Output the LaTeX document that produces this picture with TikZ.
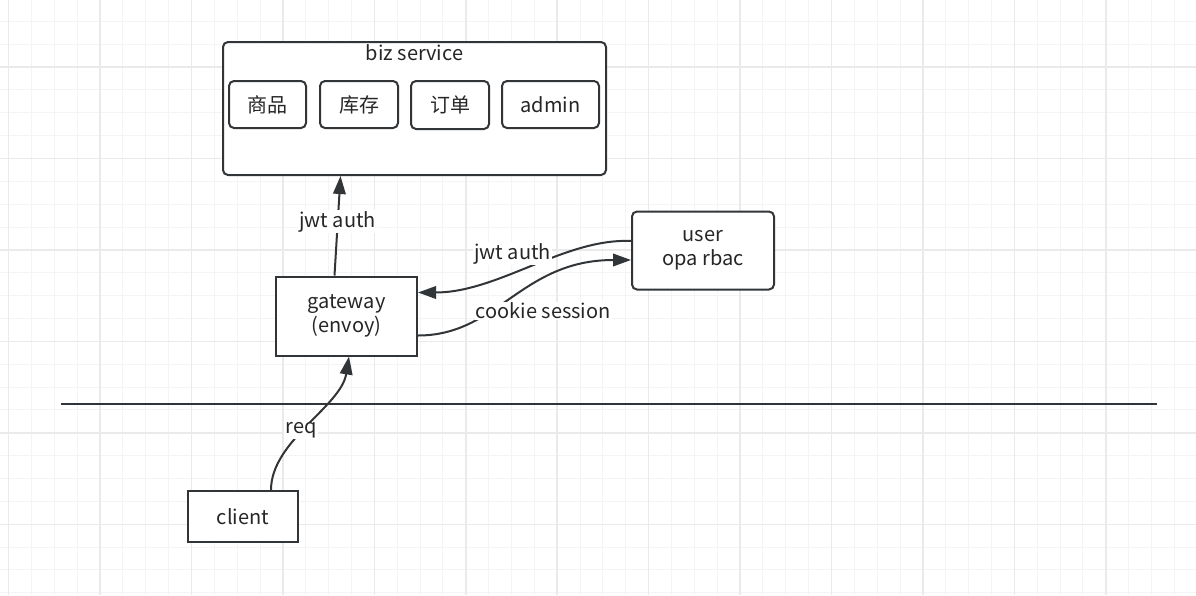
\documentclass[tikz,border=0pt]{standalone}
\usepackage{fontspec}
\setmainfont{Noto Sans CJK SC}
\usetikzlibrary{positioning,calc,arrows.meta}
\definecolor{inkline}{HTML}{323538}
\definecolor{inktext}{HTML}{262626}
\definecolor{gridminor}{HTML}{F4F4F4}
\definecolor{gridmajor}{HTML}{EAEAEA}
\tikzset{
  box/.style={draw=inkline, line width=2pt, fill=white, align=center, inner sep=0pt,
              text=inktext, font=\fontsize{20}{24}\selectfont,
              minimum width=#1},
  box/.default=110pt,
  rbox/.style={box=#1, rounded corners=5pt},
  rbox/.default=110pt,
  flow/.style={-{Triangle[length=18pt,width=12.5pt]}, draw=inkline, line width=2pt},
  lbl/.style={fill=white, inner sep=1pt, text=inktext, font=\fontsize{20}{24}\selectfont},
  thin grid/.style={draw=gridminor, line width=1pt},
  thick grid/.style={draw=gridmajor, line width=1.5pt},
}
\begin{document}
\begin{tikzpicture}[x=1pt, y=-1pt]
  \useasboundingbox[fill=white] (0,0) rectangle (1196,595);
  % grid
  \foreach \i in {0,...,52}{
    \draw[thin grid] (8.6+\i*22.857,0) -- (8.6+\i*22.857,595);}
  \foreach \j in {0,...,26}{
    \draw[thin grid] (0,21.4+\j*22.857) -- (1196,21.4+\j*22.857);}
  \foreach \i in {0,...,13}{
    \draw[thick grid] (8.6+\i*91.43,0) -- (8.6+\i*91.43,595);}
  \foreach \j in {0,...,6}{
    \draw[thick grid] (0,67.15+\j*91.43) -- (1196,67.15+\j*91.43);}
  % biz service
  \node[rbox=383pt, minimum height=133pt] (biz) at (414.5,108.5) {};
  \node[lbl, fill=none, anchor=north] (biztitle) at ([yshift=-2pt]biz.north) {biz service};
  \node[rbox=77pt, minimum height=47pt] (goods) at (267.5,104.5) {商品};
  \node[rbox=78pt, minimum height=47pt] (stock) at (359,104.5) {库存};
  \node[rbox=78pt, minimum height=48pt] (order) at (450,105) {订单};
  \node[rbox=97pt, minimum height=47pt] (admin) at (550.5,104.5) {admin};
  % gateway, user, client
  \node[box=141pt, minimum height=79pt] (gw) at (346.5,316) {gateway\\(envoy)};
  \node[rbox=142pt, minimum height=78pt] (user) at (703,250.5) {user\\opa rbac};
  \node[box=110pt, minimum height=51pt] (client) at (243,516.5) {client};
  % divider
  \coordinate (divL) at (61,404);
  \coordinate (divR) at (1157,404);
  \draw[draw=inkline, line width=2pt] (divL) -- (divR);
  % connectors
  \draw[flow] ([xshift=-12pt]gw.north) -- node[lbl, pos=0.5, yshift=4pt] (jwtbiz) {jwt auth} ([xshift=-74pt]biz.south);
  \draw[flow] ([yshift=9.5pt]user.west) .. controls +(-66,-3) and +(80,0) .. node[lbl, pos=0.5, xshift=-17pt, yshift=12pt] (jwtuser) {jwt auth} ([yshift=23.5pt]gw.east);
  \draw[flow] ([yshift=-19.5pt]gw.east) .. controls +(80,0) and +(-110,0) .. node[lbl, pos=0.5, xshift=30pt, yshift=-13pt] (cookie) {cookie session} ([yshift=-9.5pt]user.west);
  \draw[flow] ([xshift=28pt]client.north) .. controls +(0,-49) and +(-8,50) .. node[lbl, pos=0.5, xshift=-6pt, yshift=-7pt] (req) {req} ([xshift=2.5pt]gw.south);
\end{tikzpicture}
\end{document}
